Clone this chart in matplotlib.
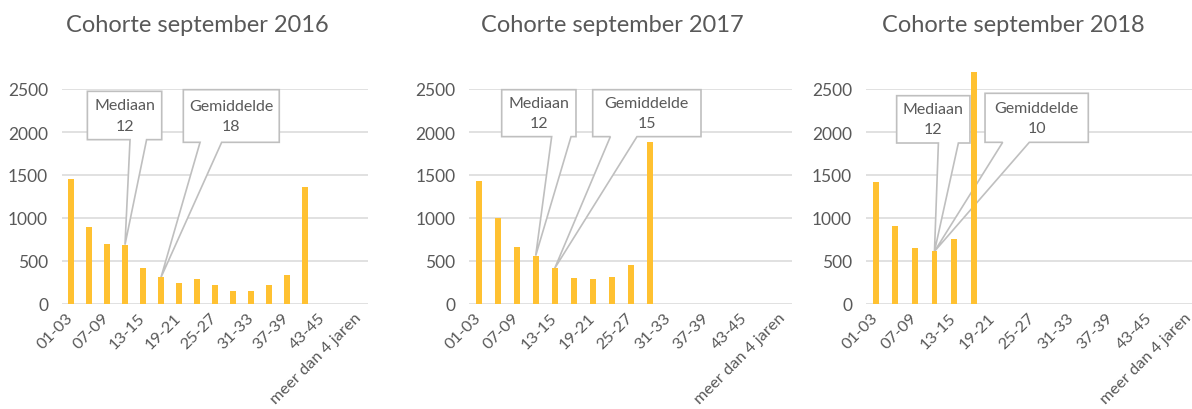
import matplotlib
matplotlib.use("Agg")
import matplotlib.pyplot as plt
from matplotlib.patches import Polygon

plt.rcParams['font.family'] = ['Lato', 'DejaVu Sans']

categories = ["01-03", "04-06", "07-09", "10-12", "13-15", "16-18", "19-21", "22-24",
              "25-27", "28-30", "31-33", "34-36", "37-39", "40-42", "43-45", "46-48",
              "meer dan 4 jaren"]

titles = ["Cohorte september 2016", "Cohorte september 2017", "Cohorte september 2018"]

values_2016 = [1450, 900, 700, 690, 415, 310, 248, 290, 225, 155, 155, 217, 333, 1365]
values_2017 = [1435, 1005, 667, 562, 415, 298, 290, 310, 457, 1880]
values_2018 = [1415, 910, 647, 612, 752, 2700]

mediaan = [12, 12, 12]
gemiddelde = [18, 15, 10]
# category index the callout points to
mediaan_idx = [3, 3, 3]
gemiddelde_idx = [5, 4, 3]

series = [values_2016, values_2017, values_2018]

# layout (pixel geometry)
W, H = 1192, 410
axes_px = [(62, 368), (469.2, 792.2), (865.9, 1199)]
title_x = [197, 612, 1013]
y0_px, ytop_px = 305, 90

# callout box layout in data coords: (x0, x1, ytop, ybot, base1, base2)
med_boxes = [(0.91, 5.04, 2473, 1911, 3.28, 4.20),
             (1.21, 5.12, 2492, 1946, 3.84, 4.86),
             (1.07, 4.81, 2422, 1872, 3.20, 4.22)]
gem_boxes = [(6.24, 11.57, 2492, 1880, 7.17, 8.37),
             (6.00, 11.70, 2492, 1946, 6.93, 8.33),
             (5.58, 10.85, 2450, 1880, 6.48, 7.84)]

bar_color = "#FFC131"
text_color = "#595959"
grid_color = "#D9D9D9"

fig = plt.figure(figsize=(W / 100, H / 100), dpi=100)


def callout(ax, box, tip, lines):
    x0, x1, yt, yb, b1, b2 = box
    pts = [(x0, yt), (x1, yt), (x1, yb), (b2, yb), tip, (b1, yb), (x0, yb)]
    poly = Polygon(pts, closed=True, facecolor="white", edgecolor="#BFBFBF",
                   linewidth=1.2, zorder=2.5, clip_on=False)
    ax.add_patch(poly)
    ax.text((x0 + x1) / 2, (yt + yb) / 2, "\n".join(lines), ha="center", va="center",
            fontsize=11.5, color=text_color, linespacing=1.55, zorder=4)


for i, vals in enumerate(series):
    l, r = axes_px[i]
    ax = fig.add_axes([l / W, (H - y0_px) / H, (r - l) / W, (y0_px - ytop_px) / H])
    x = list(range(len(vals)))
    ax.bar(x, vals, width=0.3, color=bar_color, zorder=3, clip_on=False)
    ax.set_xlim(-0.5, len(categories) - 0.5)
    ax.set_ylim(0, 2500)
    ax.set_yticks([0, 500, 1000, 1500, 2000, 2500])
    ax.yaxis.grid(True, color=grid_color, linewidth=1.1, zorder=0)
    ax.set_axisbelow(True)
    for s in ax.spines.values():
        s.set_visible(False)
    ax.tick_params(axis="both", length=0, colors=text_color)
    ax.tick_params(axis="y", pad=10, labelsize=12.5)
    ticks = list(range(0, len(categories), 2))
    ax.set_xticks(ticks)
    ax.set_xticklabels([categories[t] for t in ticks], rotation=45, ha="right",
                       rotation_mode="anchor", va="center")
    ax.tick_params(axis="x", pad=8, labelsize=11.8)
    mi = mediaan_idx[i]
    gi = gemiddelde_idx[i]
    callout(ax, med_boxes[i], (mi, vals[mi]), ["Mediaan", str(mediaan[i])])
    callout(ax, gem_boxes[i], (gi, vals[gi]), ["Gemiddelde", str(gemiddelde[i])])
    fig.text(title_x[i] / W, 1 - 25 / H, titles[i], ha="center", va="center",
             fontsize=17, color=text_color)

fig.savefig("out.png", dpi=100)
